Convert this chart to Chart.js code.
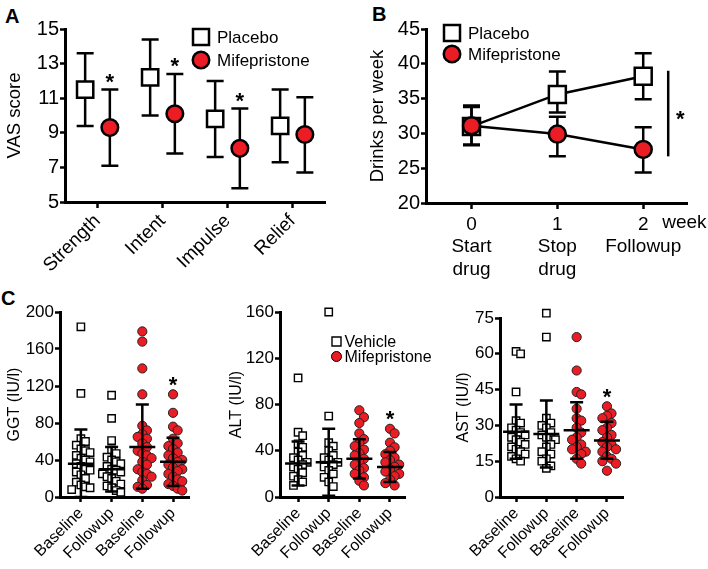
<!DOCTYPE html>
<html>
<head>
<meta charset="utf-8">
<script src="https://cdn.jsdelivr.net/npm/chart.js@4.4.0/dist/chart.umd.min.js"></script>
<style>
  body { margin: 0; background: #fff; width: 708px; height: 569px; position: relative; overflow: hidden;
         font-family: "Liberation Sans", Arial, sans-serif; }
  canvas { position: absolute; }
  .tag { position: absolute; font-weight: bold; font-size: 20px; line-height: 1; color: #000; }
</style>
</head>
<body>
<div class="tag" style="left:5px;top:6px">A</div>
<div class="tag" style="left:372px;top:4px">B</div>
<div class="tag" style="left:1px;top:288px">C</div>

<canvas id="chartA" width="360" height="285" style="left:0;top:0"></canvas>
<canvas id="chartB" width="348" height="285" style="left:360px;top:0"></canvas>
<canvas id="chartC1" width="222" height="279" style="left:0;top:290px"></canvas>
<canvas id="chartC2" width="227" height="279" style="left:222px;top:290px"></canvas>
<canvas id="chartC3" width="259" height="279" style="left:449px;top:290px"></canvas>

<script>
const FONT = '"Liberation Sans", Arial, sans-serif';
const RED = '#ec1c24';

// ---- panel A: VAS score
const aCategories = ['Strength', 'Intent', 'Impulse', 'Relief'];
const aPlaceboMean = [11.5, 12.2, 9.8, 9.4];
const aPlaceboHigh = [13.6, 14.4, 12.0, 11.5];
const aPlaceboLow = [9.4, 10.0, 7.6, 7.3];
const aMifeMean = [9.3, 10.1, 8.1, 8.9];
const aMifeHigh = [11.5, 12.4, 10.4, 11.05];
const aMifeLow = [7.1, 7.8, 5.8, 6.7];
const aStars = [true, true, true, false];

// ---- panel B: drinks per week
const bWeeks = [0, 1, 2];
const bLabels = [['0', 'Start', 'drug'], ['1', 'Stop', 'drug'], ['2', 'Followup']];
const bPlaceboMean = [31.0, 35.6, 38.2];
const bPlaceboHigh = [33.8, 38.9, 41.5];
const bPlaceboLow = [28.3, 33.0, 34.9];
const bMifeMean = [31.1, 29.9, 27.7];
const bMifeHigh = [34.0, 32.4, 30.9];
const bMifeLow = [28.4, 26.7, 24.4];
const bSigRange = [26.7, 39.0];

// ---- panel C: liver enzymes
const cGroups = ['Baseline', 'Followup', 'Baseline', 'Followup'];

const ggtVehBase = [184, 112, 63, 60, 56, 52, 50, 48, 45, 42, 40, 38, 36, 33, 30, 29, 27, 24, 20, 16, 13, 11, 10, 8];
const ggtVehFol = [110, 85, 61, 51, 47, 43, 40, 38, 36, 33, 30, 29, 27, 25, 22, 20, 17, 14, 12, 10, 7, 5];
const ggtMifBase = [179, 168, 139, 111, 77, 72, 68, 65, 63, 58, 54, 50, 47, 45, 42, 38, 35, 30, 27, 25, 22, 18, 13, 11, 9];
const ggtMifFol = [111, 91, 76, 72, 63, 58, 55, 52, 48, 45, 42, 40, 38, 35, 32, 30, 28, 25, 22, 19, 17, 14, 12, 9, 7];
const ggtMean = [36, 30, 54, 38];
const ggtHigh = [73, 54, 100, 64];
const ggtLow = [0, 6, 9, 12];

const altVehBase = [103, 56, 53, 46, 43, 39, 36, 34, 32, 30, 28, 26, 24, 21, 18, 15, 13, 10];
const altVehFol = [160, 70, 47, 44, 40, 36, 34, 32, 30, 28, 26, 23, 20, 17, 13, 9];
const altMifBase = [75, 69, 64, 55, 50, 47, 44, 41, 38, 36, 33, 30, 28, 25, 23, 20, 17, 14, 10];
const altMifFol = [59, 55, 47, 43, 40, 37, 34, 32, 30, 28, 26, 24, 22, 20, 18, 15, 12, 10];
const altMean = [29, 30, 33, 26];
const altHigh = [48, 59, 50, 39];
const altLow = [10, 1, 16, 13];

const astVehBase = [61, 60, 44, 32, 31, 29, 28, 27, 26, 25, 24, 23, 22, 21, 20, 19, 18, 17, 16, 15];
const astVehFol = [77, 67, 33, 31, 30, 29, 27, 26, 25, 24, 22, 21, 19, 18, 16, 15, 13, 12];
const astMifBase = [67, 53, 44, 43, 37, 33, 32, 29, 27, 25, 24, 22, 21, 20, 19, 18, 16, 14];
const astMifFol = [38, 35, 34, 33, 31, 29, 28, 26, 25, 23, 22, 21, 20, 19, 17, 16, 15, 14, 11];
const astMean = [27.3, 26.4, 28, 23.7];
const astHigh = [38.8, 40.4, 39.7, 31.5];
const astLow = [16, 12.4, 16, 16];

// ---------- shared helpers
function drawStar(ctx, x, y) {
  ctx.save();
  ctx.font = 'bold 22px ' + FONT;
  ctx.textAlign = 'center';
  ctx.textBaseline = 'alphabetic';
  ctx.fillStyle = '#000';
  ctx.fillText('*', x, y + 12.5);
  ctx.restore();
}

function drawMarker(ctx, style, x, y, size, fill, lw) {
  ctx.save();
  ctx.fillStyle = fill;
  ctx.strokeStyle = '#000';
  ctx.lineWidth = lw;
  ctx.beginPath();
  if (style === 'rect') ctx.rect(x - size / 2, y - size / 2, size, size);
  else ctx.arc(x, y, size / 2, 0, Math.PI * 2);
  ctx.fill();
  ctx.stroke();
  ctx.restore();
}

const errorBars = {
  id: 'errorBars',
  beforeDatasetsDraw(chart) {
    const { ctx, scales: { x, y } } = chart;
    chart.data.datasets.forEach(ds => {
      if (!ds.errHigh) return;
      ctx.save();
      ctx.strokeStyle = '#000';
      ctx.lineWidth = 2.5;
      ds.data.forEach((p, j) => {
        const px = x.getPixelForValue(p.x);
        const top = y.getPixelForValue(ds.errHigh[j]);
        const bot = y.getPixelForValue(ds.errLow[j]);
        const w = ds.capWidth / 2;
        ctx.beginPath();
        ctx.moveTo(px, top); ctx.lineTo(px, bot);
        ctx.moveTo(px - w, top); ctx.lineTo(px + w, top);
        ctx.moveTo(px - w, bot); ctx.lineTo(px + w, bot);
        ctx.stroke();
      });
      ctx.restore();
    });
  }
};

const legendBox = {
  id: 'legendBox',
  afterDraw(chart, args, o) {
    if (!o.items) return;
    const { ctx, chartArea } = chart;
    o.items.forEach((it, i) => {
      const x = chartArea.left + o.left;
      const y = chartArea.top + o.top + i * o.gap;
      drawMarker(ctx, it.style, x, y, it.size, it.fill, it.lw);
      ctx.save();
      ctx.font = o.fontSize + 'px ' + FONT;
      ctx.fillStyle = '#000';
      ctx.textBaseline = 'middle';
      ctx.fillText(it.text, x + o.textGap, y + 1);
      ctx.restore();
    });
  }
};

function yAxis(min, max, step, title, tickSize, titleSize, width, titlePad) {
  return {
    min: min, max: max,
    ticks: { stepSize: step, color: '#000', font: { family: FONT, size: tickSize }, padding: 1 },
    border: { color: '#000', width: 3 },
    grid: { drawOnChartArea: false, color: '#000', tickLength: 5, tickWidth: 2.5 },
    title: { display: true, text: title, color: '#000',
             font: { family: FONT, size: titleSize }, padding: { top: titlePad, bottom: 0 } },
    afterFit: s => { s.width = width; }
  };
}

function xAxis(min, max, values, labelFor, size, rotation, height, tickLen, pad) {
  return {
    type: 'linear', min: min, max: max,
    afterBuildTicks: s => { s.ticks = values.map(v => ({ value: v })); },
    ticks: { callback: labelFor, autoSkip: false, minRotation: rotation, maxRotation: rotation,
             color: '#000', font: { family: FONT, size: size }, padding: pad },
    border: { color: '#000', width: 3 },
    grid: { drawOnChartArea: false, color: '#000', tickLength: tickLen, tickWidth: 2.5 },
    afterFit: s => { s.height = height; }
  };
}

const baseOptions = {
  responsive: false,
  animation: false,
  events: [],
  plugins: { legend: { display: false }, tooltip: { enabled: false } }
};

// ---------- panel A
const aDodge = 0.19;
new Chart(document.getElementById('chartA'), {
  type: 'scatter',
  data: {
    datasets: [
      {
        label: 'Mifepristone',
        order: 1,
        data: aMifeMean.map((v, i) => ({ x: i + 1 + aDodge, y: v })),
        errHigh: aMifeHigh, errLow: aMifeLow, capWidth: 17,
        pointStyle: 'circle', pointRadius: 8.3,
        backgroundColor: RED, borderColor: '#000', pointBorderWidth: 2.5
      },
      {
        label: 'Placebo',
        order: 2,
        data: aPlaceboMean.map((v, i) => ({ x: i + 1 - aDodge, y: v })),
        errHigh: aPlaceboHigh, errLow: aPlaceboLow, capWidth: 17,
        pointStyle: 'rect', pointRadius: 11.5,
        backgroundColor: '#fff', borderColor: '#000', pointBorderWidth: 2.5
      }
    ]
  },
  options: {
    ...baseOptions,
    layout: { padding: { top: 29, right: 35, left: 0, bottom: 0 } },
    scales: {
      x: xAxis(0.5, 4.5, [1, 2, 3, 4], v => aCategories[v - 1], 19, 45, 83, 6, 2),
      y: yAxis(5, 15, 2, 'VAS score', 20, 18.5, 65, 4)
    },
    plugins: {
      ...baseOptions.plugins,
      legendBox: {
        left: 136, top: 8, gap: 23, textGap: 16, fontSize: 17,
        items: [
          { text: 'Placebo', style: 'rect', size: 16, fill: '#fff', lw: 2.5 },
          { text: 'Mifepristone', style: 'circle', size: 16.5, fill: RED, lw: 2.5 }
        ]
      }
    }
  },
  plugins: [errorBars, legendBox, {
    id: 'aStars',
    afterDatasetsDraw(chart) {
      const { ctx, scales: { x, y } } = chart;
      aStars.forEach((on, i) => {
        if (on) drawStar(ctx, x.getPixelForValue(i + 1 + aDodge), y.getPixelForValue(aMifeHigh[i]) - 13);
      });
    }
  }]
});

// ---------- panel B
new Chart(document.getElementById('chartB'), {
  type: 'line',
  data: {
    datasets: [
      {
        label: 'Mifepristone',
        order: 1,
        data: bMifeMean.map((v, i) => ({ x: bWeeks[i], y: v })),
        errHigh: bMifeHigh, errLow: bMifeLow, capWidth: 17,
        borderColor: '#000', borderWidth: 2.5,
        pointStyle: 'circle', pointRadius: 8.5,
        pointBackgroundColor: RED, pointBorderColor: '#000', pointBorderWidth: 2.5
      },
      {
        label: 'Placebo',
        order: 2,
        data: bPlaceboMean.map((v, i) => ({ x: bWeeks[i], y: v })),
        errHigh: bPlaceboHigh, errLow: bPlaceboLow, capWidth: 17,
        borderColor: '#000', borderWidth: 2.5,
        pointStyle: 'rect', pointRadius: 12,
        pointBackgroundColor: '#fff', pointBorderColor: '#000', pointBorderWidth: 2.5
      }
    ]
  },
  options: {
    ...baseOptions,
    layout: { padding: { top: 29, right: 21, left: 0, bottom: 0 } },
    scales: {
      x: xAxis(-0.53, 2.51, bWeeks, v => bLabels[v], 19, 0, 82, 6, 4),
      y: yAxis(20, 45, 5, 'Drinks per week', 20, 18.5, 66, 7)
    },
    plugins: {
      ...baseOptions.plugins,
      legendBox: {
        left: 26, top: 4, gap: 21, textGap: 16, fontSize: 17,
        items: [
          { text: 'Placebo', style: 'rect', size: 16, fill: '#fff', lw: 2.5 },
          { text: 'Mifepristone', style: 'circle', size: 16.5, fill: RED, lw: 2.5 }
        ]
      }
    }
  },
  plugins: [errorBars, legendBox, {
    id: 'bExtras',
    afterDraw(chart) {
      const { ctx, scales: { x, y }, chartArea } = chart;
      const last = x.getPixelForValue(bWeeks[bWeeks.length - 1]);
      ctx.save();
      ctx.strokeStyle = '#000';
      ctx.lineWidth = 2.5;
      ctx.beginPath();
      ctx.moveTo(last + 25, y.getPixelForValue(bSigRange[1]));
      ctx.lineTo(last + 25, y.getPixelForValue(bSigRange[0]));
      ctx.stroke();
      ctx.font = '19px ' + FONT;
      ctx.fillStyle = '#000';
      ctx.textBaseline = 'middle';
      ctx.fillText('week', last + 19, chartArea.bottom + 20);
      ctx.restore();
      drawStar(ctx, last + 37, y.getPixelForValue((bSigRange[0] + bSigRange[1]) / 2));
    }
  }]
});

// ---------- panel C
function swarm(values, center, range) {
  const placed = [];
  const step = 0.15;
  const thr = range * 0.042;
  const out = new Array(values.length);
  const order = values.map((v, i) => i).sort((a, b) => values[b] - values[a]);
  order.forEach(i => {
    const v = values[i];
    let k = [0, 1, -1, 2, -2, 3, -3].find(c =>
      !placed.some(p => Math.abs(p.v - v) < thr && Math.abs(p.c - c) < 1));
    if (k === undefined) k = 0;
    placed.push({ v: v, c: k });
    out[i] = { x: center + k * step, y: v };
  });
  return out;
}

function makeC(id, cfg) {
  const range = cfg.max;
  new Chart(document.getElementById(id), {
    type: 'scatter',
    data: {
      datasets: [
        {
          label: 'Mifepristone',
          data: swarm(cfg.mifBase, 3, range).concat(swarm(cfg.mifFol, 4, range)),
          pointStyle: 'circle', pointRadius: 4.6,
          backgroundColor: RED, borderColor: '#222', pointBorderWidth: 1, clip: false
        },
        {
          label: 'Vehicle',
          data: swarm(cfg.vehBase, 1, range).concat(swarm(cfg.vehFol, 2, range)),
          pointStyle: 'rect', pointRadius: 5.2,
          backgroundColor: '#fff', borderColor: '#000', pointBorderWidth: 1.4, clip: false
        }
      ]
    },
    options: {
      ...baseOptions,
      layout: { padding: { top: cfg.top, right: cfg.right, left: 0, bottom: 0 } },
      scales: {
        x: xAxis(cfg.xMin, cfg.xMax, [1, 2, 3, 4], v => cGroups[v - 1], 16, 45, 72, 5, 2),
        y: yAxis(0, cfg.max, cfg.step, cfg.title, 17, 16, cfg.yWidth, 5.4)
      },
      plugins: {
        ...baseOptions.plugins,
        legendBox: cfg.legend || {}
      }
    },
    plugins: [legendBox, {
      id: 'meanSd',
      afterDatasetsDraw(chart) {
        const { ctx, scales: { x, y } } = chart;
        ctx.save();
        ctx.strokeStyle = '#000';
        ctx.lineWidth = 2.5;
        cfg.mean.forEach((m, i) => {
          const px = x.getPixelForValue(i + 1);
          const pm = y.getPixelForValue(m);
          const ph = y.getPixelForValue(cfg.high[i]);
          const pl = y.getPixelForValue(cfg.low[i]);
          ctx.beginPath();
          ctx.moveTo(px - 13, pm); ctx.lineTo(px + 13, pm);
          ctx.moveTo(px, ph); ctx.lineTo(px, pl);
          ctx.moveTo(px - 6.5, ph); ctx.lineTo(px + 6.5, ph);
          ctx.moveTo(px - 6.5, pl); ctx.lineTo(px + 6.5, pl);
          ctx.stroke();
        });
        ctx.restore();
        drawStar(ctx, x.getPixelForValue(4), y.getPixelForValue(Math.max(...cfg.mifFol)) - 15);
      }
    }]
  });
}

makeC('chartC1', {
  title: 'GGT (IU/l)', max: 200, step: 40, top: 22, right: 33, yWidth: 60, xMin: 0.32, xMax: 4.52,
  vehBase: ggtVehBase, vehFol: ggtVehFol, mifBase: ggtMifBase, mifFol: ggtMifFol,
  mean: ggtMean, high: ggtHigh, low: ggtLow
});

makeC('chartC2', {
  title: 'ALT (IU/l)', max: 160, step: 40, top: 22, right: 44, yWidth: 58, xMin: 0.41, xMax: 4.49,
  vehBase: altVehBase, vehFol: altVehFol, mifBase: altMifBase, mifFol: altMifFol,
  mean: altMean, high: altHigh, low: altLow,
  legend: {
    left: 56.5, top: 29.5, gap: 15, textGap: 8, fontSize: 16,
    items: [
      { text: 'Vehicle', style: 'rect', size: 9, fill: '#fff', lw: 1.4 },
      { text: 'Mifepristone', style: 'circle', size: 10, fill: RED, lw: 1 }
    ]
  }
});

makeC('chartC3', {
  title: 'AST (IU/l)', max: 75, step: 15, top: 28, right: 85, yWidth: 51, xMin: 0.47, xMax: 4.53,
  vehBase: astVehBase, vehFol: astVehFol, mifBase: astMifBase, mifFol: astMifFol,
  mean: astMean, high: astHigh, low: astLow
});
</script>
</body>
</html>
